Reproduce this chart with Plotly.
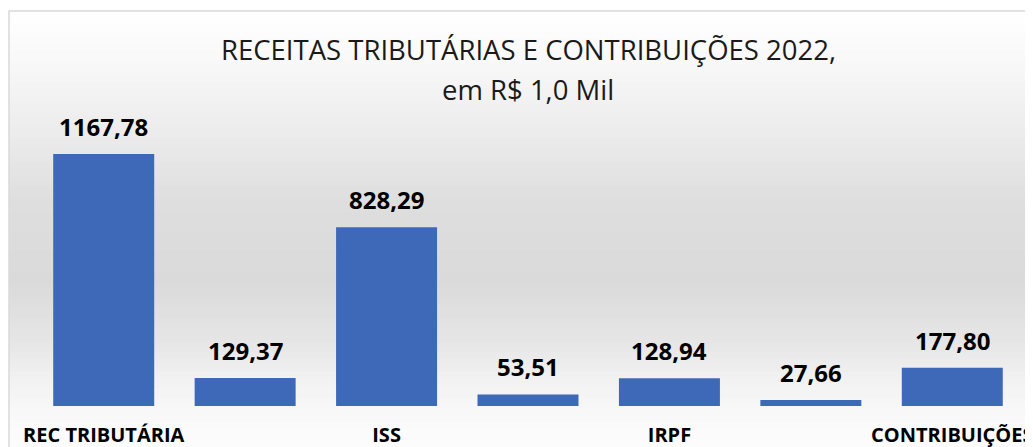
import plotly.graph_objects as go

# ---- data ----
categories = ["REC TRIBUTÁRIA", "IPTU", "ISS", "ITBI", "IRPF", "TAXAS", "CONTRIBUIÇÕES"]
values = [1167.78, 129.37, 828.29, 53.51, 128.94, 27.66, 177.80]
shown_ticks = ["REC TRIBUTÁRIA", "ISS", "IRPF", "CONTRIBUIÇÕES"]
title_line1 = "RECEITAS TRIBUTÁRIAS E CONTRIBUIÇÕES 2022,"
title_line2 = "em R$ 1,0 Mil"

W, H = 1033, 447
OFF = 8  # page body margin offset
# target plot area in screen pixels: x 33..1023, y 104..406
L = 33 - OFF
R = W - (1023 - OFF)
T = 104 - OFF
B = H - (406 - OFF)
PW, PH = W - L - R, H - T - B

def py(y_screen):
    y = y_screen - OFF
    return (H - B - y) / PH

def px(x_screen):
    x = x_screen - OFF
    return (x - L) / PW

fig = go.Figure()
fig.add_trace(go.Bar(
    x=categories, y=values,
    marker=dict(color="#3E68B8", line=dict(width=0)),
    hoverinfo="x+y",
))

# data labels
for c, v in zip(categories, values):
    fig.add_annotation(
        x=c, y=v, text=f"{v:.2f}".replace(".", ","),
        showarrow=False, yanchor="bottom", yshift=9,
        font=dict(family="Open Sans", size=24, color="#000000", weight="bold"),
    )

# background gradient (style only)
stops = [(0, 255), (11, 255), (60, 248), (130, 236), (200, 222), (280, 218),
         (340, 230), (380, 242), (420, 250), (460, 253)]
shapes = []
step = 4
for yy in range(0, 460, step):
    g = 253
    for i in range(len(stops) - 1):
        if stops[i][0] <= yy <= stops[i + 1][0]:
            y0, g0 = stops[i]
            y1, g1 = stops[i + 1]
            g = g0 + (g1 - g0) * (yy - y0) / max(1, (y1 - y0))
            break
    g = int(round(g))
    shapes.append(dict(
        type="rect", xref="paper", yref="paper",
        x0=px(9), x1=px(W + 20),
        y0=py(yy + step), y1=py(yy),
        fillcolor=f"rgb({g},{g},{g})", line=dict(width=0), layer="below",
    ))
# chart border
shapes.append(dict(
    type="rect", xref="paper", yref="paper",
    x0=px(9), x1=px(W + 20),
    y0=py(H + 20), y1=py(11),
    line=dict(color="#d9d9d9", width=1.5), fillcolor="rgba(0,0,0,0)", layer="below",
))

fig.add_annotation(
    x=0.5, xref="paper", y=py(70), yref="paper", yanchor="bottom",
    text=title_line1, showarrow=False,
    font=dict(family="Open Sans", size=27.5, color="#1a1a1a"),
)
fig.add_annotation(
    x=0.5, xref="paper", y=py(110), yref="paper", yanchor="bottom",
    text=title_line2, showarrow=False,
    font=dict(family="Open Sans", size=27.5, color="#1a1a1a"),
)

fig.update_layout(
    width=W, height=H,
    margin=dict(l=L, r=R, t=T, b=B, autoexpand=False),
    paper_bgcolor="white", plot_bgcolor="rgba(0,0,0,0)",
    bargap=0.286,
    showlegend=False,
    shapes=shapes,
    xaxis=dict(
        tickmode="array", tickvals=shown_ticks, ticktext=shown_ticks,
        showgrid=False, showline=False, zeroline=False, ticks="",
        ticklabelstandoff=15,
        tickfont=dict(family="Open Sans", size=20, color="#000000", weight="bold"),
        range=[-0.5, 6.5],
    ),
    yaxis=dict(range=[0, 1400], visible=False, showgrid=False),
)

fig.write_html("out.html")
